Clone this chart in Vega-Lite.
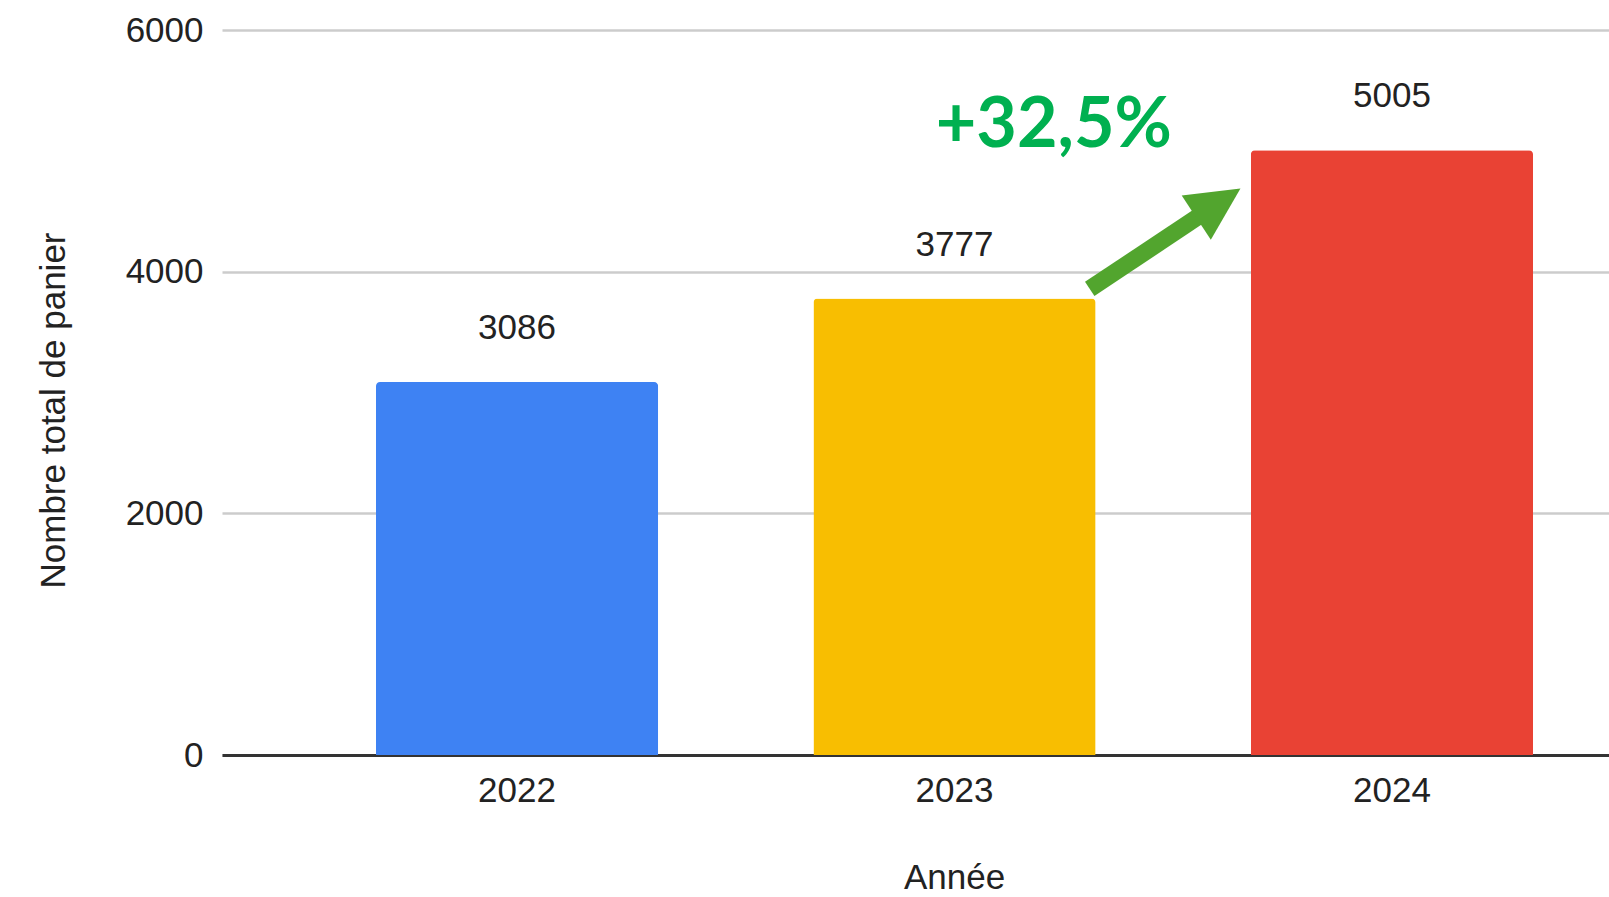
{
  "$schema": "https://vega.github.io/schema/vega-lite/v6.json",
  "autosize": {"type": "none"},
  "width": 1387,
  "height": 725,
  "padding": {"left": 222, "top": 30, "right": 0, "bottom": 142},
  "background": "white",
  "config": {
    "view": {"stroke": null},
    "font": "Liberation Sans"
  },
  "layer": [
    {
      "data": {"values": [
        {"annee": "2022", "total": 3086},
        {"annee": "2023", "total": 3777},
        {"annee": "2024", "total": 5005}
      ]},
      "layer": [
        {
          "mark": {"type": "bar", "cornerRadiusTopLeft": 4, "cornerRadiusTopRight": 4},
          "encoding": {
            "x": {
              "field": "annee", "type": "nominal", "sort": null,
              "scale": {"range": [0, 1465], "paddingInner": 0.355, "paddingOuter": 0.352},
              "axis": {
                "title": "Année", "labelAngle": 0, "labelFontSize": 35, "labelColor": "#222222",
                "labelPadding": 18, "ticks": false, "domainColor": "#333333", "domainWidth": 3,
                "titleFontSize": 35, "titleFontWeight": "normal", "titleColor": "#222222",
                "titleX": 732, "titleY": 122, "titleBaseline": "middle"
              }
            },
            "y": {
              "field": "total", "type": "quantitative",
              "scale": {"domain": [0, 6000], "nice": false},
              "axis": {
                "title": "Nombre total de panier", "values": [0, 2000, 4000, 6000], "format": "d",
                "labelFontSize": 35, "labelColor": "#222222", "labelPadding": 19,
                "ticks": false, "domain": false, "gridColor": "#cccccc", "gridWidth": 2.5,
                "titleFontSize": 35, "titleFontWeight": "normal", "titleColor": "#222222",
                "titleX": -169, "titleY": 380, "titleBaseline": "middle", "titleAlign": "center", "titleAngle": -90
              }
            },
            "color": {
              "field": "annee", "type": "nominal", "legend": null,
              "scale": {"domain": ["2022", "2023", "2024"], "range": ["#3E82F3", "#F8BE01", "#E94234"]}
            }
          }
        },
        {
          "mark": {"type": "text", "fontSize": 35, "color": "#222222", "baseline": "middle", "dy": -54},
          "encoding": {
            "x": {"field": "annee", "type": "nominal", "sort": null},
            "y": {"field": "total", "type": "quantitative"},
            "text": {"field": "total", "type": "quantitative", "format": "d"}
          }
        }
      ]
    },
    {
      "layer": [
        {
          "data": {"values": [{"x": 2023.309, "y": 3857, "x2": 2023.566, "y2": 4477}]},
          "mark": {"type": "rule", "color": "#52A52E", "strokeWidth": 17, "strokeCap": "butt"},
          "encoding": {
            "x": {"field": "x", "type": "quantitative", "scale": {"domain": [2021.326, 2024.674], "range": [0, 1465], "nice": false, "zero": false}, "axis": null},
            "y": {"field": "y", "type": "quantitative", "axis": null},
            "x2": {"field": "x2"},
            "y2": {"field": "y2"}
          }
        },
        {
          "data": {"values": [{"x": 2023.603, "y": 4568}]},
          "mark": {"type": "point", "shape": "M0,-1L1,1L-1,1Z", "size": 2800, "angle": 56.6, "filled": true, "color": "#52A52E", "opacity": 1},
          "encoding": {
            "x": {"field": "x", "type": "quantitative"},
            "y": {"field": "y", "type": "quantitative"}
          }
        },
        {
          "data": {"values": [{"x": 2023.227, "y": 5206, "label": "+32,5%"}]},
          "mark": {"type": "text", "font": "Lato", "fontWeight": "bold", "fontSize": 70, "color": "#00B050", "baseline": "middle", "align": "center"},
          "encoding": {
            "x": {"field": "x", "type": "quantitative"},
            "y": {"field": "y", "type": "quantitative"},
            "text": {"field": "label"}
          }
        }
      ]
    }
  ],
  "resolve": {"scale": {"x": "independent"}, "axis": {"y": "independent"}}
}
